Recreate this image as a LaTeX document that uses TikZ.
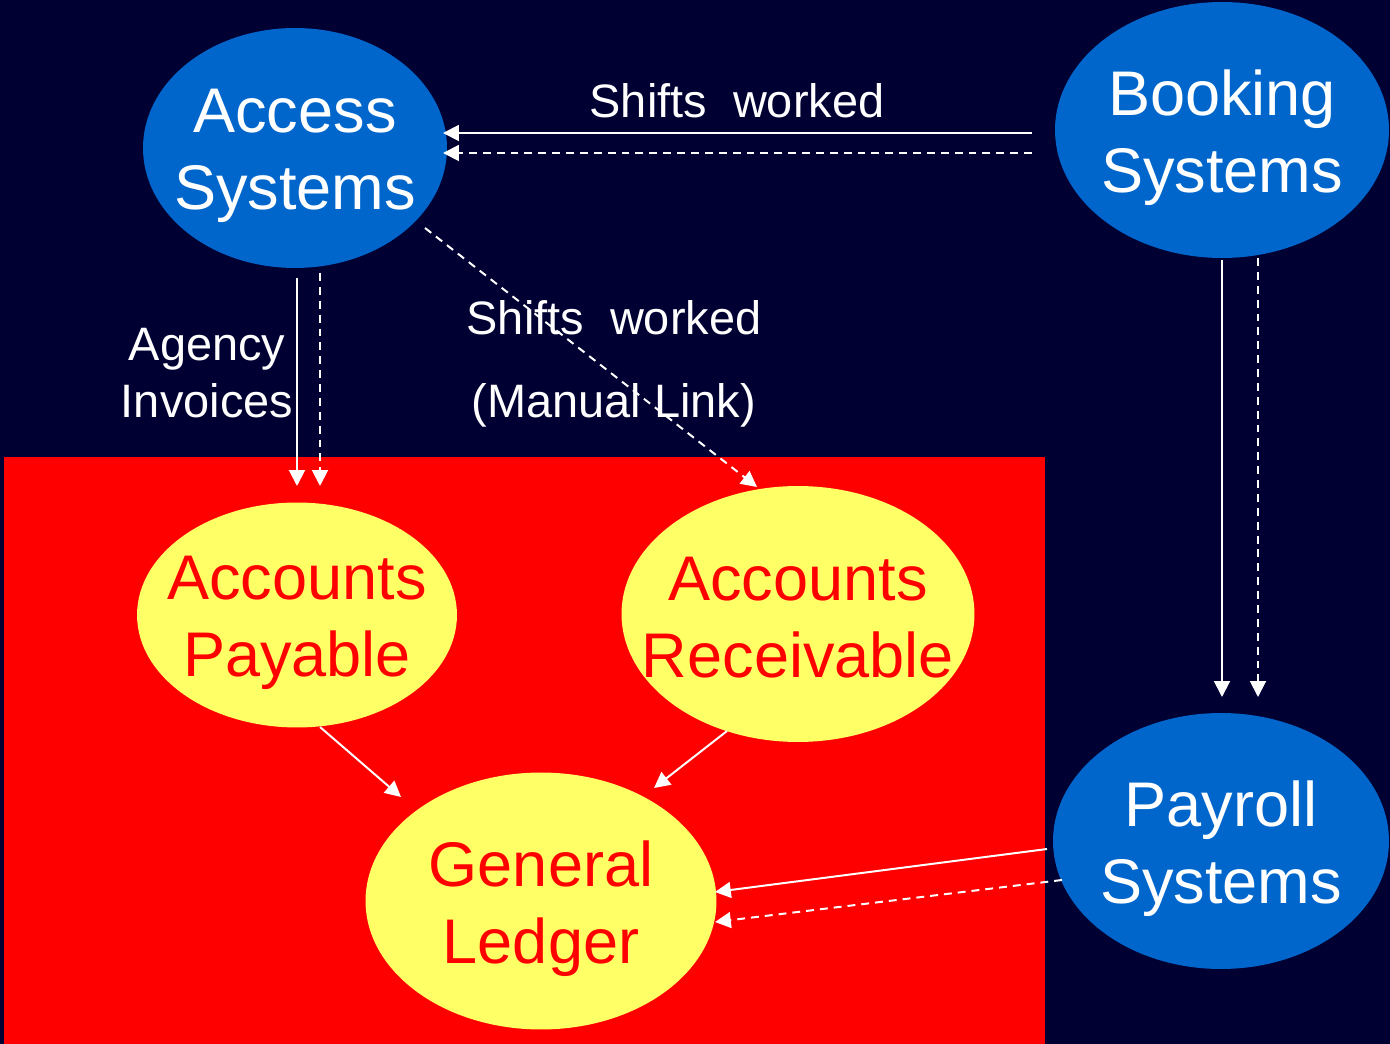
\documentclass[tikz,border=0pt]{standalone}
\usepackage{fontspec}
\setmainfont{Liberation Sans}
\usetikzlibrary{shapes.geometric,arrows.meta}
\definecolor{bgnavy}{HTML}{000033}
\definecolor{sysblue}{HTML}{0066CC}
\definecolor{acyellow}{HTML}{FFFF66}
\definecolor{acred}{HTML}{FF0000}
\tikzset{
  bigtext/.style={inner sep=0pt, align=center, font=\fontsize{35.9pt}{43.8pt}\selectfont, yshift=-0.16cm},
  sysnode/.style={ellipse, fill=sysblue, draw=none, inner sep=0pt},
  accnode/.style={ellipse, fill=acyellow, draw=none, inner sep=0pt},
  systext/.style={bigtext, text=white},
  acctext/.style={bigtext, text=acred},
  lbl/.style={text=white, align=center, inner sep=0pt, font=\fontsize{26.7pt}{32pt}\selectfont},
  flow/.style={draw=white, line width=1.13pt, -{Triangle[length=9pt,width=9pt]}},
  dflow/.style={flow, dash pattern=on 4.5pt off 3.4pt},
}
\begin{document}
\begin{tikzpicture}[x=0.02cm,y=-0.02cm]
\fill[bgnavy] (0,0) rectangle (1390,1044);
\useasboundingbox (0,0) rectangle (1390,1044);
\fill[acred] (4,457) rectangle (1045,1044);

\node[sysnode, minimum width=6.08cm, minimum height=4.8cm,
  label={[systext]center:Access\\Systems}] (access) at (295,148) {};
\node[sysnode, minimum width=6.68cm, minimum height=5.12cm,
  label={[systext]center:Booking\\Systems}] (booking) at (1222,130) {};
\node[sysnode, minimum width=6.72cm, minimum height=5.12cm,
  label={[systext]center:Payroll\\Systems}] (payroll) at (1221,841) {};
\node[accnode, minimum width=6.4cm, minimum height=4.5cm,
  label={[acctext]center:Accounts\\Payable}] (ap) at (297,615) {};
\node[accnode, minimum width=7.06cm, minimum height=5.12cm,
  label={[acctext, yshift=0.08cm]center:Accounts\\Receivable}] (ar) at (798,614) {};
\node[accnode, minimum width=7.02cm, minimum height=5.14cm,
  label={[acctext]center:General\\Ledger}] (gl) at (541,901) {};

\node[lbl] (l1) at (737,101) {Shifts\ \ worked};
\node[lbl] (l2) at (207,373) {Agency\\Invoices};
\node[lbl] (l3) at (614,318) {Shifts\ \ worked};
\node[lbl] (l4) at (614,405) {(Manual Link)};

% endpoints
\coordinate (bA1) at (1032,133); \coordinate (aB1) at (443,133);
\coordinate (bA2) at (1032,153); \coordinate (aB2) at (443,153);
\coordinate (aP1) at (297,278);  \coordinate (pA1) at (297,486);
\coordinate (aP2) at (320,273);  \coordinate (pA2) at (320,486);
\coordinate (aR1) at (425,228);  \coordinate (rA1) at (757,487);
\coordinate (bP1) at (1222,260); \coordinate (pB1) at (1222,697);
\coordinate (bP2) at (1258,258); \coordinate (pB2) at (1258,697);
\coordinate (pG1) at (1047,849); \coordinate (gP1) at (715,892);
\coordinate (pG2) at (1062,880); \coordinate (gP2) at (715,922);
\coordinate (apG) at (320,727);  \coordinate (gAP) at (401,797);
\coordinate (arG) at (727,731);  \coordinate (gAR) at (654,788);

\draw[flow] (bA1) -- (aB1);
\draw[dflow] (bA2) -- (aB2);
\draw[flow] (aP1) -- (pA1);
\draw[dflow] (aP2) -- (pA2);
\draw[dflow] (aR1) -- (rA1);
\draw[flow] (bP1) -- (pB1);
\draw[dflow] (bP2) -- (pB2);
\draw[flow] (pG1) -- (gP1);
\draw[dflow] (pG2) -- (gP2);
\draw[flow] (apG) -- (gAP);
\draw[flow] (arG) -- (gAR);
\end{tikzpicture}
\end{document}
